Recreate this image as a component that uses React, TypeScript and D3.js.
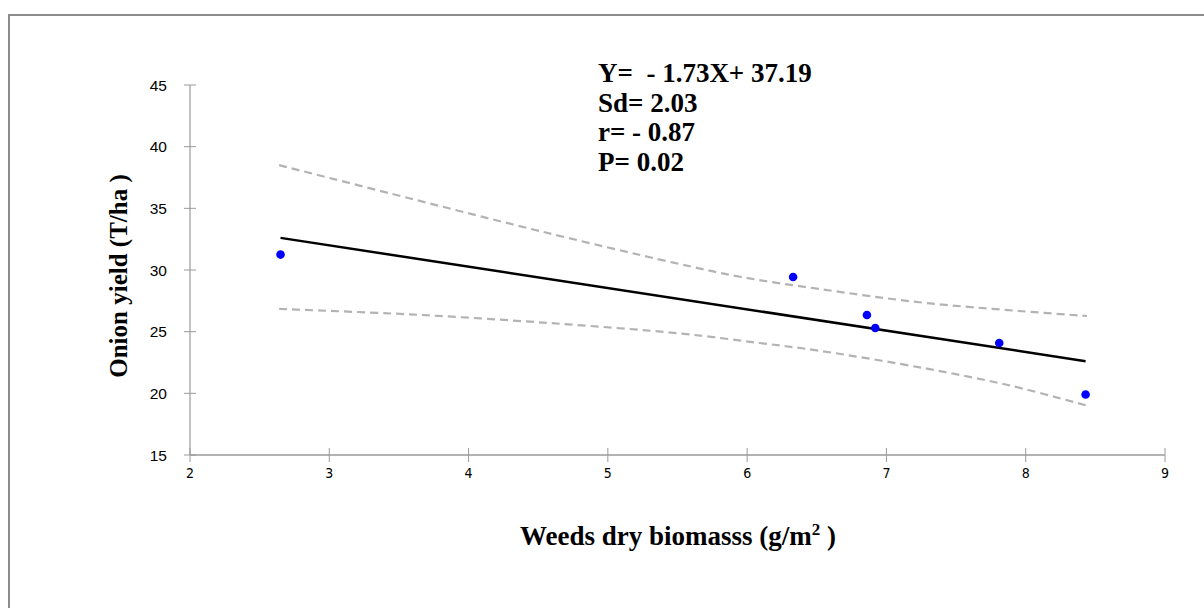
import React from "react";
import * as d3 from "d3";

const xTicks = [2, 3, 4, 5, 6, 7, 8, 9];
const yTicks = [15, 20, 25, 30, 35, 40, 45];

const pointsX = [2.65, 6.33, 6.86, 6.92, 7.81, 8.43];
const pointsY = [31.25, 29.43, 26.35, 25.3, 24.08, 19.9];

const slope = -1.73;
const intercept = 37.19;
const fitRange = [2.65, 8.43];

const upperX = [2.64, 3.58, 4.51, 5.47, 5.95, 6.52, 7.29, 8.44];
const upperY = [38.5, 35.8, 33.16, 30.6, 29.45, 28.46, 27.32, 26.27];
const lowerX = [2.64, 3.58, 4.58, 5.52, 6.09, 6.52, 7.29, 7.9, 8.44];
const lowerY = [26.84, 26.4, 25.7, 24.85, 24.08, 23.45, 22.0, 20.6, 19.0];

const statLines = ["Y=  - 1.73X+ 37.19", "Sd= 2.03", "r= - 0.87", "P= 0.02"];

export default function App() {
  const x = d3.scaleLinear().domain([2, 9]).range([190, 1165]);
  const y = d3.scaleLinear().domain([15, 45]).range([455, 85]);
  const line = d3
    .line<[number, number]>()
    .x((d) => x(d[0]))
    .y((d) => y(d[1]))
    .curve(d3.curveCatmullRom.alpha(0.5));
  const upper = line(upperX.map((v, i) => [v, upperY[i]] as [number, number]));
  const lower = line(lowerX.map((v, i) => [v, lowerY[i]] as [number, number]));
  const fit = d3
    .line<number>()
    .x((d) => x(d))
    .y((d) => y(slope * d + intercept))(fitRange);
  const axisColor = "#9a9a9a";
  return (
    <svg
      width={1204}
      height={608}
      style={{ position: "absolute", left: 0, top: 0 }}
    >
      <rect x={0} y={0} width={1204} height={608} fill="#fff" />
      <path
        d="M9,620 L9,15 L1220,15"
        fill="none"
        stroke="#8c8c8c"
        strokeWidth={2}
      />
      {/* y axis */}
      <line x1={x(2)} x2={x(2)} y1={y(45)} y2={y(15)} stroke={axisColor} strokeWidth={1.2} />
      {yTicks.map((t) => (
        <g key={"y" + t}>
          <line x1={x(2) - 6} x2={x(2) + 6} y1={y(t)} y2={y(t)} stroke={axisColor} strokeWidth={1} />
          <text
            x={167}
            y={y(t)}
            dy="0.36em"
            textAnchor="end"
            fontFamily="Liberation Sans, Arial, sans-serif"
            fontSize={15.5}
            fill="#000"
          >
            {t}
          </text>
        </g>
      ))}
      {/* x axis */}
      <line x1={x(2)} x2={x(9)} y1={y(15)} y2={y(15)} stroke={axisColor} strokeWidth={1.5} />
      {xTicks.map((t) => (
        <g key={"x" + t}>
          <line x1={x(t)} x2={x(t)} y1={y(15) - 7} y2={y(15) + 7} stroke={axisColor} strokeWidth={1} />
          <text
            x={x(t)}
            y={478}
            textAnchor="middle"
            fontFamily="Liberation Sans Narrow, DejaVu Sans Condensed, sans-serif"
            fontSize={14}
            fill="#000"
          >
            {t}
          </text>
        </g>
      ))}
      {/* bands */}
      <path d={upper || ""} fill="none" stroke="#b3b3b3" strokeWidth={2.2} strokeDasharray="8,5" />
      <path d={lower || ""} fill="none" stroke="#b3b3b3" strokeWidth={2.2} strokeDasharray="8,5" />
      {/* fit */}
      <path d={fit || ""} fill="none" stroke="#000" strokeWidth={2.5} />
      {/* points */}
      {pointsX.map((v, i) => (
        <circle key={"p" + i} cx={x(v)} cy={y(pointsY[i])} r={4.3} fill="#0000ff" />
      ))}
      {/* stats */}
      {statLines.map((s, i) => (
        <text
          key={"s" + i}
          x={598}
          y={82 + i * 29.5}
          fontFamily="Liberation Serif"
          fontWeight="bold"
          fontSize={27}
          fill="#000"
          style={{ whiteSpace: "pre" }}
        >
          {s}
        </text>
      ))}
      {/* axis titles */}
      <text
        x={678}
        y={545}
        textAnchor="middle"
        fontFamily="Liberation Serif"
        fontWeight="bold"
        fontSize={27}
        fill="#000"
      >
        Weeds dry biomasss (g/m
        <tspan dy={-10} fontSize={17}>2</tspan>
        <tspan dy={10}> )</tspan>
      </text>
      <text
        transform={`translate(127,276) rotate(-90)`}
        textAnchor="middle"
        fontFamily="Liberation Serif"
        fontWeight="bold"
        fontSize={25}
        fill="#000"
      >
        Onion yield (T/ha )
      </text>
    </svg>
  );
}
